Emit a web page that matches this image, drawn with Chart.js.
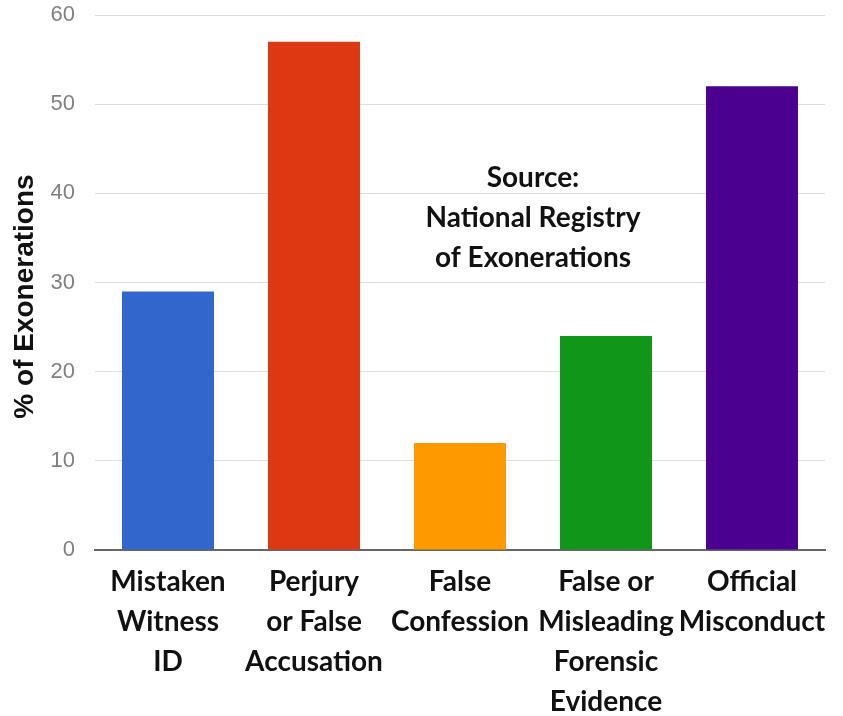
<!DOCTYPE html>
<html>
<head>
<meta charset="utf-8">
<script src="https://cdn.jsdelivr.net/npm/chart.js@4.4.1/dist/chart.umd.min.js"></script>
<style>
  html, body { margin: 0; padding: 0; background: #ffffff; }
  #wrap { width: 843px; height: 716px; position: relative; }
</style>
</head>
<body>
<div id="wrap"><canvas id="c"></canvas></div>
<script>
const categories = [
  ["Mistaken", "Witness", "ID"],
  ["Perjury", "or False", "Accusation"],
  ["False", "Confession"],
  ["False or", "Misleading", "Forensic", "Evidence"],
  ["Official", "Misconduct"]
];
const percentValues = [29, 57, 12, 24, 52];
const barColors = ["#3366cc", "#dc3912", "#ff9900", "#109618", "#4b0090"];
const yTicks = [0, 10, 20, 30, 40, 50, 60];
const yAxisTitle = "% of Exonerations";
const sourceNote = ["Source:", "National Registry", "of Exonerations"];

const narrowBold = 'Lato, "Open Sans", sans-serif';

const annotations = {
  id: 'annotations',
  afterDraw(chart) {
    const ctx = chart.ctx;
    const x = chart.scales.x, y = chart.scales.y, area = chart.chartArea;
    ctx.save();
    ctx.fillStyle = '#111';
    ctx.font = 'bold 28px ' + narrowBold;
    ctx.textAlign = 'center';
    ctx.textBaseline = 'middle';
    const cx = (x.getPixelForValue(2) + x.getPixelForValue(3)) / 2;
    const cy = y.getPixelForValue(41.7);
    sourceNote.forEach((line, i) => ctx.fillText(line, cx, cy + i * 40));
    ctx.restore();
    ctx.save();
    ctx.fillStyle = '#111';
    ctx.font = 'bold 28px "Liberation Sans", Arial, sans-serif';
    ctx.textAlign = 'center';
    ctx.textBaseline = 'middle';
    ctx.translate(25, (area.top + area.bottom) / 2 + 14);
    ctx.rotate(-Math.PI / 2);
    ctx.fillText(yAxisTitle, 0, 0);
    ctx.restore();
  }
};

new Chart(document.getElementById('c'), {
  type: 'bar',
  data: {
    labels: categories,
    datasets: [{
      data: percentValues,
      backgroundColor: barColors,
      borderWidth: 0,
      barPercentage: 0.63,
      categoryPercentage: 1.0
    }]
  },
  options: {
    responsive: true,
    maintainAspectRatio: false,
    animation: false,
    devicePixelRatio: 1,
    layout: { padding: { top: 0, right: 18, left: 0, bottom: 0 } },
    plugins: { legend: { display: false }, tooltip: { enabled: false } },
    scales: {
      x: {
        grid: { display: false, drawTicks: false },
        border: { display: true, color: '#666', width: 2 },
        ticks: {
          color: '#111',
          padding: 12,
          maxRotation: 0,
          autoSkip: false,
          font: { family: narrowBold, size: 28, weight: 'bold', lineHeight: 1.43 }
        },
        afterFit(scale) { scale.height = 166; scale.paddingLeft = 0; scale.paddingRight = 0; }
      },
      y: {
        min: 0, max: 60,
        afterBuildTicks(scale) { scale.ticks = yTicks.map(v => ({ value: v })); },
        grid: { color: '#dddddd', lineWidth: 1, drawTicks: false },
        border: { display: false },
        ticks: {
          color: '#808080',
          padding: 20,
          font: { family: '"Liberation Sans", Arial, sans-serif', size: 22 }
        },
        afterFit(scale) { scale.width = 95; scale.paddingTop = 15; scale.paddingBottom = 0; }
      }
    }
  },
  plugins: [annotations]
});
</script>
</body>
</html>
